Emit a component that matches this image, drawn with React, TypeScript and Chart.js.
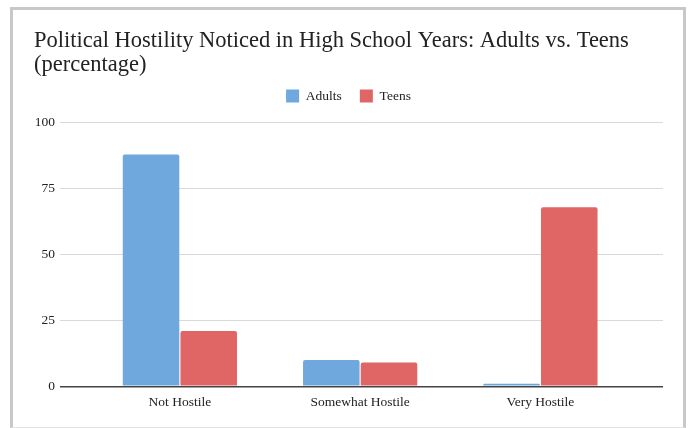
import React, { useEffect, useRef } from "react";
import { Chart, registerables } from "chart.js";

Chart.register(...registerables);

// Survey categories and the share (%) of each group that noticed them
const categories = ["Not Hostile", "Somewhat Hostile", "Very Hostile"];
const adultsValues = [88, 10, 1];
const teensValues = [21, 9, 68];
const yTicks = [0, 25, 50, 75, 100];

const titleLines = [
  "Political Hostility Noticed in High School Years: Adults vs. Teens",
  "(percentage)",
];

const SERIF = "'Liberation Serif', 'Times New Roman', Times, serif";

// Leaves extra room between the legend row and the plot
const legendSpacing = {
  id: "legendSpacing",
  beforeInit(chart: any) {
    const legend = chart.legend;
    if (!legend) return;
    const fit = legend.fit;
    legend.fit = function () {
      fit.call(this);
      this.height += 10;
    };
  },
};

export default function App() {
  const canvasRef = useRef<HTMLCanvasElement | null>(null);

  useEffect(() => {
    const canvas = canvasRef.current;
    if (!canvas) return;

    const toPoints = (vals: number[]) => vals.map((v, i) => ({ x: i + 1, y: v }));

    const chart = new Chart(canvas, {
      type: "bar",
      data: {
        datasets: [
          {
            label: "Adults",
            data: toPoints(adultsValues),
            backgroundColor: "#6fa8dc",
            borderRadius: 2,
            borderSkipped: "bottom",
          },
          {
            label: "Teens",
            data: toPoints(teensValues),
            backgroundColor: "#e06666",
            borderRadius: 2,
            borderSkipped: "bottom",
          },
        ],
      },
      plugins: [legendSpacing],
      options: {
        responsive: false,
        animation: false,
        categoryPercentage: 0.64,
        barPercentage: 0.98,
        layout: { padding: { left: 21, right: 20, top: 0, bottom: 8.5 } },
        plugins: {
          tooltip: { enabled: false },
          title: {
            display: true,
            text: titleLines,
            align: "start",
            color: "#222",
            font: { family: SERIF, size: 22.5, weight: "normal", lineHeight: 1.03 },
            padding: { top: 20, bottom: -5 },
          },
          legend: {
            display: true,
            position: "top",
            align: "center",
            labels: {
              boxWidth: 13,
              boxHeight: 13,
              padding: 18,
              color: "#222",
              font: { family: SERIF, size: 13.5 },
            },
          },
        },
        scales: {
          x: {
            type: "linear",
            offset: false,
            bounds: "data",
            min: 0.335,
            max: 3.68,
            afterBuildTicks: (scale: any) => {
              scale.ticks = categories.map((_, i) => ({ value: i + 1 }));
            },
            grid: { display: false, drawTicks: false },
            border: { display: false },
            ticks: {
              autoSkip: false,
              maxRotation: 0,
              padding: 8,
              color: "#222",
              font: { family: SERIF, size: 13.5 },
              callback: (v: any) => categories[Number(v) - 1] ?? "",
            },
          },
          y: {
            min: 0,
            max: 100,
            afterBuildTicks: (scale: any) => {
              scale.ticks = yTicks.map((v) => ({ value: v }));
            },
            afterFit: (scale: any) => {
              scale.width = 26;
            },
            grid: {
              drawTicks: false,
              color: (ctx: any) => (ctx.tick && ctx.tick.value === 0 ? "#444" : "#d9d9d9"),
              lineWidth: (ctx: any) => (ctx.tick && ctx.tick.value === 0 ? 1.5 : 1),
            },
            border: { display: false },
            ticks: {
              padding: 5,
              color: "#222",
              font: { family: SERIF, size: 13.5 },
            },
          },
        },
      },
    });

    return () => chart.destroy();
  }, []);

  return (
    <div
      style={{
        position: "absolute",
        left: 10,
        top: 7,
        width: 670,
        height: 417,
        borderTop: "3px solid #c8c8c8",
        borderLeft: "3px solid #c8c8c8",
        borderRight: "3px solid #c8c8c8",
        borderBottom: "1px solid #e2e2e2",
        background: "#fff",
      }}
    >
      <canvas ref={canvasRef} width={670} height={417} style={{ display: "block" }} />
    </div>
  );
}
